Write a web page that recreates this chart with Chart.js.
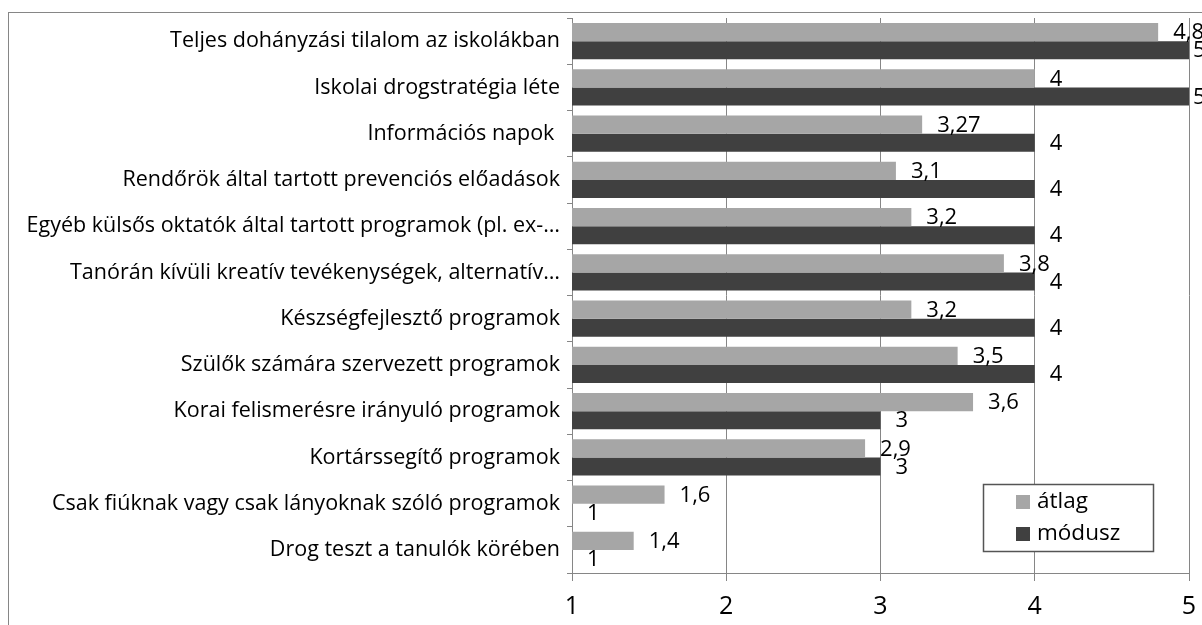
<!DOCTYPE html>
<html>
<head>
<meta charset="utf-8">
<script src="https://cdn.jsdelivr.net/npm/chart.js@4/dist/chart.umd.min.js"></script>
<style>
  html, body { margin: 0; padding: 0; background: #fff; }
  #wrap { width: 1202px; height: 625px; position: relative; }
</style>
</head>
<body>
<div id="wrap"><canvas id="grafico"></canvas></div>
<script>
// adatok
const kategoriak = [
  "Teljes dohányzási tilalom az iskolákban",
  "Iskolai drogstratégia léte",
  "Információs napok ",
  "Rendőrök által tartott prevenciós előadások",
  "Egyéb külsős oktatók által tartott programok (pl. ex-…",
  "Tanórán kívüli kreatív tevékenységek, alternatív…",
  "Készségfejlesztő programok",
  "Szülők számára szervezett programok",
  "Korai felismerésre irányuló programok",
  "Kortárssegítő programok",
  "Csak fiúknak vagy csak lányoknak szóló programok",
  "Drog teszt a tanulók körében"
];
const atlag  = [4.8, 4, 3.27, 3.1, 3.2, 3.8, 3.2, 3.5, 3.6, 2.9, 1.6, 1.4];
const modusz = [5, 5, 4, 4, 4, 4, 4, 4, 3, 3, 1, 1];
const xTicks = [1, 2, 3, 4, 5];

const FONT = "'Open Sans', sans-serif";
const GRID = "#868686";

// keret a diagram körül
const keret = {
  id: "keret",
  beforeDraw(chart) {
    const ctx = chart.ctx;
    ctx.save();
    ctx.fillStyle = "#fff";
    ctx.fillRect(0, 0, chart.width, chart.height);
    ctx.strokeStyle = GRID;
    ctx.lineWidth = 1;
    ctx.strokeRect(8.5, 12.5, chart.width + 20, chart.height + 20);
    ctx.restore();
  }
};

// értékcímkék a sávok mellett (a jobb szélen bent tartva, mint az Excel)
const cimkek = {
  id: "cimkek",
  afterDatasetsDraw(chart) {
    const ctx = chart.ctx;
    ctx.save();
    ctx.font = "22px " + FONT;
    ctx.fillStyle = "#000";
    ctx.textBaseline = "middle";
    ctx.textAlign = "left";
    chart.data.datasets.forEach((ds, i) => {
      chart.getDatasetMeta(i).data.forEach((bar, j) => {
        const txt = String(ds.data[j]).replace(".", ",");
        const x = Math.min(bar.x + 15, chart.width - 9);
        ctx.fillText(txt, x, bar.y + 1);
      });
    });
    ctx.restore();
  }
};

// jelmagyarázat kerettel
const jelmagyarazat = {
  id: "jelmagyarazat",
  afterDraw(chart) {
    const ctx = chart.ctx;
    const x = 983, y = 484, w = 170, h = 67;
    ctx.save();
    ctx.fillStyle = "#fff";
    ctx.fillRect(x, y, w, h);
    ctx.strokeStyle = "#555";
    ctx.lineWidth = 1.5;
    ctx.strokeRect(x + 0.5, y + 0.5, w, h);
    ctx.font = "22.5px " + FONT;
    ctx.textBaseline = "middle";
    chart.data.datasets.forEach((ds, i) => {
      const cy = y + 18 + i * 32;
      ctx.fillStyle = ds.backgroundColor;
      ctx.fillRect(x + 33, cy - 7, 14, 14);
      ctx.fillStyle = "#000";
      ctx.fillText(ds.label, x + 54, cy);
    });
    ctx.restore();
  }
};

const ctx = document.getElementById("grafico").getContext("2d");
new Chart(ctx, {
  type: "bar",
  data: {
    labels: kategoriak,
    datasets: [
      { label: "átlag", data: atlag, backgroundColor: "#a6a6a6", borderWidth: 0 },
      { label: "módusz", data: modusz, backgroundColor: "#404040", borderWidth: 0 }
    ]
  },
  options: {
    indexAxis: "y",
    responsive: true,
    maintainAspectRatio: false,
    animation: false,
    categoryPercentage: 0.78,
    barPercentage: 1.0,
    layout: { padding: { top: 18, right: 13, left: 0, bottom: 0 } },
    plugins: {
      legend: { display: false },
      tooltip: { enabled: false }
    },
    scales: {
      x: {
        min: 1,
        max: 5,
        afterBuildTicks(scale) { scale.ticks = xTicks.map(v => ({ value: v })); },
        afterFit(scale) {
          scale.height = 52;
          scale.paddingLeft = 0;
          scale.paddingRight = 0;
        },
        grid: { color: GRID, tickLength: 8, lineWidth: 1 },
        border: { color: GRID },
        ticks: { color: "#000", font: { family: FONT, size: 25 }, padding: 11, maxRotation: 0 }
      },
      y: {
        afterFit(scale) {
          scale.width = 572;
          scale.paddingTop = 0;
          scale.paddingBottom = 0;
        },
        grid: { drawOnChartArea: false, offset: true, tickLength: 5, color: GRID },
        border: { color: GRID },
        ticks: { color: "#000", font: { family: FONT, size: 21.5 }, padding: 7, autoSkip: false }
      }
    }
  },
  plugins: [keret, cimkek, jelmagyarazat]
});
</script>
</body>
</html>
